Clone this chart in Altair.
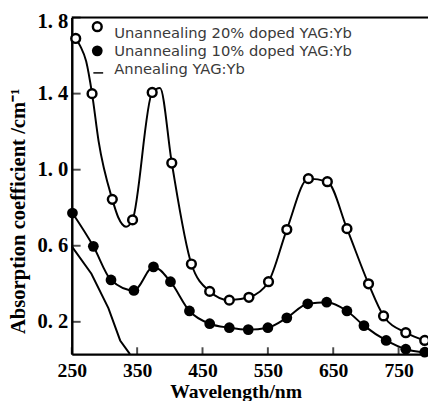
import altair as alt
import pandas as pd

# 20% doped (open circles) - marker positions
open_wl = [256, 281, 312, 343, 373, 403, 433, 461, 491, 521, 551, 579, 612, 641, 671, 704, 727, 761, 790]
open_val = [1.69, 1.40, 0.844, 0.736, 1.406, 1.035, 0.504, 0.36, 0.314, 0.329, 0.411, 0.685, 0.953, 0.937, 0.69, 0.40, 0.231, 0.143, 0.102]
# 20% doped curve (hand-drawn line, passes through markers)
open_line_wl = [256, 263, 272, 281, 291, 312, 321, 333, 343, 373, 385, 403, 433, 461, 491, 521, 551, 579, 612, 641, 671, 704, 727, 761, 790]
open_line_val = [1.69, 1.65, 1.57, 1.40, 1.15, 0.844, 0.75, 0.70, 0.736, 1.406, 1.43, 1.035, 0.504, 0.36, 0.314, 0.329, 0.411, 0.685, 0.953, 0.937, 0.69, 0.40, 0.231, 0.143, 0.102]

# 10% doped (filled circles)
fill_wl = [251, 283, 310, 345, 375, 401, 430, 461, 491, 520, 550, 579, 611, 640, 671, 697, 731, 761, 790]
fill_val = [0.772, 0.597, 0.42, 0.365, 0.489, 0.411, 0.257, 0.19, 0.169, 0.159, 0.169, 0.221, 0.295, 0.303, 0.257, 0.18, 0.102, 0.056, 0.04]

# Annealing (plain line)
ann_wl = [250, 280, 306, 324, 339]
ann_val = [0.597, 0.453, 0.272, 0.102, 0.03]

x_ticks = [250, 350, 450, 550, 650, 750]
y_ticks = [0.2, 0.6, 1.0, 1.4, 1.8]

legend_labels = ["Unannealing 20% doped YAG:Yb", "Unannealing 10% doped YAG:Yb", "Annealing YAG:Yb"]

W, H = 363, 343
SERIF = "Liberation Serif"

x_scale = alt.Scale(domain=[250, 795], nice=False, zero=False)
y_scale = alt.Scale(domain=[0.03, 1.8], nice=False, zero=False)

x_axis = alt.Axis(values=x_ticks, title="Wavelength/nm", tickSize=0, grid=False,
                  domainWidth=2.5, domainColor="black",
                  labelFont=SERIF, labelFontWeight="bold", labelFontSize=20, labelColor="black",
                  labelPadding=7, labelFlush=False,
                  titleFont=SERIF, titleFontWeight="bold", titleFontSize=20, titleColor="black",
                  titleX=167, titleY=44, titleBaseline="alphabetic", titleAlign="center")
y_axis = alt.Axis(values=y_ticks, title="Absorption coefficient  /cm\u207b\u00b9", tickSize=0, grid=False,
                  domainWidth=2.5, domainColor="black",
                  labelFont=SERIF, labelFontWeight="bold", labelFontSize=21, labelColor="black",
                  labelPadding=4, labelFlush=False,
                  labelOffset={"condition": {"test": "datum.value >= 1.79", "value": 4}, "value": 0},
                  labelExpr="replace(format(datum.value, '.1f'), '.', '. ')",
                  titleFont=SERIF, titleFontWeight="bold", titleFontSize=21, titleColor="black",
                  titleX=-54, titleY=197, titleAngle=-90, titleBaseline="middle", titleAlign="center")


def X(f):
    return alt.X(f, type="quantitative", scale=x_scale, axis=x_axis)


def Y(f):
    return alt.Y(f, type="quantitative", scale=y_scale, axis=y_axis)


open_df = pd.DataFrame({"wl": open_wl, "val": open_val})
open_line_df = pd.DataFrame({"wl": open_line_wl, "val": open_line_val})
fill_df = pd.DataFrame({"wl": fill_wl, "val": fill_val})
ann_df = pd.DataFrame({"wl": ann_wl, "val": ann_val})

ann_line = alt.Chart(ann_df).mark_line(color="black", strokeWidth=2).encode(x=X("wl"), y=Y("val"))
fill_line = alt.Chart(fill_df).mark_line(color="black", strokeWidth=2, interpolate="monotone").encode(x=X("wl"), y=Y("val"))
fill_pts = alt.Chart(fill_df).mark_circle(color="black", size=120, opacity=1).encode(x=X("wl"), y=Y("val"))
open_line = alt.Chart(open_line_df).mark_line(color="black", strokeWidth=2, interpolate="monotone").encode(x=X("wl"), y=Y("val"))
open_pts = alt.Chart(open_df).mark_point(shape="circle", filled=True, fill="white", stroke="black",
                                         strokeWidth=2.5, size=80, opacity=1).encode(x=X("wl"), y=Y("val"))

# frame top
top_rule = alt.Chart(pd.DataFrame({"y": [1.8]})).mark_rule(color="black", strokeWidth=2).encode(y=Y("y"))

# inside ticks
xt = alt.Chart(pd.DataFrame({"t": x_ticks})).mark_tick(color="black", thickness=2, size=7, orient="vertical").encode(
    x=X("t"), y=alt.value(H - 3.5))
yt = alt.Chart(pd.DataFrame({"t": y_ticks})).mark_tick(color="black", thickness=2, size=9, orient="horizontal").encode(
    y=Y("t"), x=alt.value(4.5))

# legend (in data coordinates)
leg_open = alt.Chart(pd.DataFrame({"wl": [289], "val": [1.752]})).mark_point(
    shape="circle", filled=True, fill="white", stroke="black", strokeWidth=2.5, size=80, opacity=1).encode(x=X("wl"), y=Y("val"))
leg_fill = alt.Chart(pd.DataFrame({"wl": [289], "val": [1.625]})).mark_circle(
    color="black", size=120, opacity=1).encode(x=X("wl"), y=Y("val"))
leg_line = alt.Chart(pd.DataFrame({"wl": [283], "wl2": [298], "val": [1.509]})).mark_rule(
    color="black", strokeWidth=1.5).encode(x=X("wl"), x2="wl2", y=Y("val"))
leg_text = alt.Chart(pd.DataFrame({"wl": [315, 315, 315], "val": [1.716, 1.623, 1.530], "label": legend_labels})).mark_text(
    align="left", baseline="middle", font="DejaVu Sans", fontSize=15, color="#3a3a3a").encode(
    x=X("wl"), y=Y("val"), text="label:N")

chart = alt.layer(
    top_rule, ann_line, fill_line, open_line, fill_pts, open_pts, xt, yt,
    leg_open, leg_fill, leg_line, leg_text
).properties(
    width=W, height=H,
    autosize=alt.AutoSizeParams(type="none"),
    padding={"left": 65, "top": 6, "right": 0, "bottom": 44},
).configure_view(stroke=None).configure(background="white")

chart.save("out.html", embed_options={"renderer": "svg", "actions": False})
